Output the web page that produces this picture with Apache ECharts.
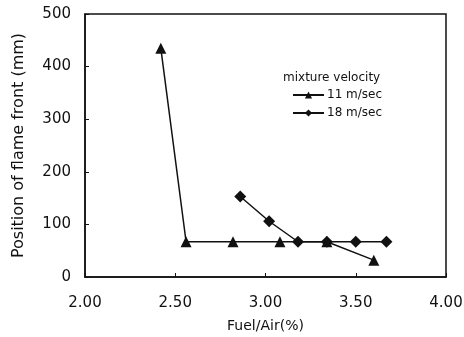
<!DOCTYPE html>
<html>
<head>
<meta charset="utf-8">
<script src="https://cdn.jsdelivr.net/npm/echarts@6/dist/echarts.min.js"></script>
<style>
  html, body { margin: 0; padding: 0; background: #fff; }
  #chart { width: 464px; height: 337px; }
</style>
</head>
<body>
<div id="chart"></div>
<script>
// Flame front position vs fuel/air ratio for two mixture velocities
const seriesNames = ['11 m/sec', '18 m/sec'];
const fuelAir11 = [2.42, 2.56, 2.82, 3.08, 3.34, 3.60];
const position11 = [435, 67, 67, 67, 67, 32];
const fuelAir18 = [2.86, 3.02, 3.18, 3.34, 3.50, 3.67];
const position18 = [153, 106, 67, 67, 67, 67];
const xTicks = [2.0, 2.5, 3.0, 3.5, 4.0];
const yTicks = [0, 100, 200, 300, 400, 500];

const font = 'DejaVu Sans';
const ink = '#111';

function pairs(xs, ys) {
  return xs.map((x, i) => [x, ys[i]]);
}

const chart = echarts.init(document.getElementById('chart'), null, { renderer: 'canvas' });
chart.setOption({
  animation: false,
  backgroundColor: '#fff',
  textStyle: { fontFamily: font, color: ink },
  title: {
    text: 'mixture velocity',
    left: 278,
    top: 67,
    textStyle: { fontFamily: font, fontSize: 12, fontWeight: 'normal', color: ink }
  },
  legend: {
    orient: 'vertical',
    left: 287,
    top: 84,
    itemWidth: 31,
    itemHeight: 9,
    itemGap: 6,
    data: seriesNames,
    textStyle: { fontFamily: font, fontSize: 12, color: ink, padding: [0, 0, 0, -2] }
  },
  grid: {
    left: 85, right: 18, top: 14, bottom: 60,
    outerBoundsMode: 'none',
    containLabel: false,
    show: true, borderColor: ink, borderWidth: 1.5
  },
  xAxis: {
    type: 'value',
    min: xTicks[0],
    max: xTicks[xTicks.length - 1],
    interval: 0.5,
    name: 'Fuel/Air(%)',
    nameLocation: 'middle',
    nameGap: 42,
    nameTextStyle: { fontFamily: font, fontSize: 14, color: ink },
    axisLine: { lineStyle: { color: ink, width: 1.5 } },
    axisTick: { inside: true, length: 4, lineStyle: { color: ink } },
    axisLabel: {
      fontFamily: font, fontSize: 15, color: ink, margin: 19,
      formatter: v => v.toFixed(2)
    },
    splitLine: { show: false }
  },
  yAxis: {
    type: 'value',
    min: yTicks[0],
    max: yTicks[yTicks.length - 1],
    interval: 100,
    name: 'Position of flame front (mm)',
    nameLocation: 'middle',
    nameGap: 58,
    nameTextStyle: { fontFamily: font, fontSize: 16, color: ink },
    axisLine: { lineStyle: { color: ink, width: 1.5 } },
    axisTick: { inside: true, length: 4, lineStyle: { color: ink } },
    axisLabel: { fontFamily: font, fontSize: 15, color: ink, margin: 14 },
    splitLine: { show: false }
  },
  series: [
    {
      name: seriesNames[0],
      type: 'line',
      data: pairs(fuelAir11, position11),
      symbol: 'triangle',
      symbolSize: 11,
      itemStyle: { color: ink },
      lineStyle: { color: ink, width: 1.5 }
    },
    {
      name: seriesNames[1],
      type: 'line',
      data: pairs(fuelAir18, position18),
      symbol: 'diamond',
      symbolSize: 12,
      itemStyle: { color: ink },
      lineStyle: { color: ink, width: 1.5 }
    }
  ]
});
</script>
</body>
</html>
